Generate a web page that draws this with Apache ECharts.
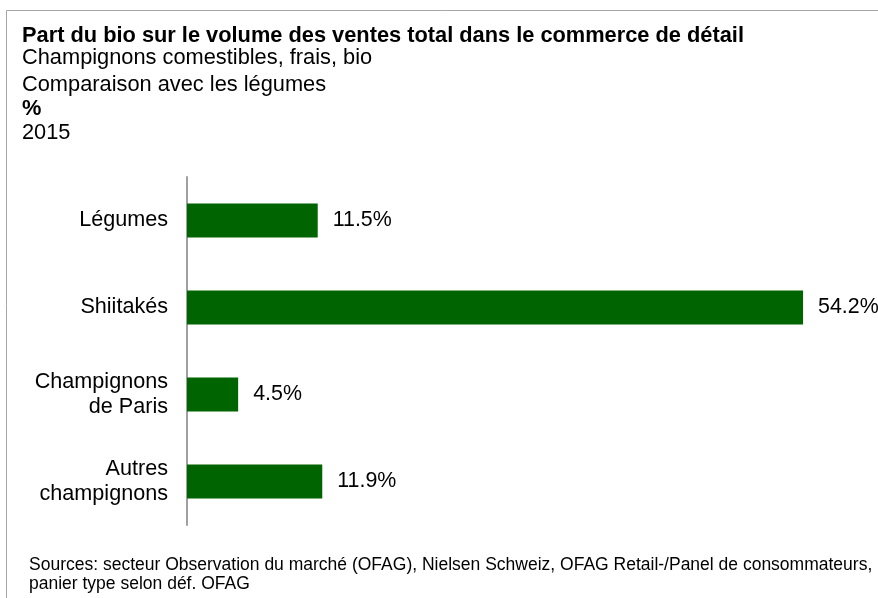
<!DOCTYPE html>
<html>
<head>
<meta charset="utf-8">
<script src="https://cdn.jsdelivr.net/npm/echarts@6/dist/echarts.min.js"></script>
<style>
  html, body { margin: 0; padding: 0; background: #fff; }
  #chart { width: 878px; height: 598px; }
</style>
</head>
<body>
<div id="chart"></div>
<script>
// data
const categories = ['Légumes', 'Shiitakés', 'Champignons\nde Paris', 'Autres\nchampignons']
const shares = [11.5, 54.2, 4.5, 11.9]
const titleLines = ['Champignons comestibles, frais, bio', 'Comparaison avec les légumes']
const sourceLines = [
  'Sources: secteur Observation du marché (OFAG), Nielsen Schweiz, OFAG Retail-/Panel de consommateurs,',
  'panier type selon déf. OFAG'
]

const font = 'Liberation Sans, Arial, sans-serif'
const myChart = echarts.init(document.getElementById('chart'))

function line (text, top, bold) {
  return {
    text: text, left: 22, top: top, padding: 0,
    textStyle: { fontFamily: font, fontSize: 21.8, fontWeight: bold ? 'bold' : 'normal', color: '#000' }
  }
}

const option = {
  animation: false,
  textStyle: { fontFamily: font },
  title: [
    line('Part du bio sur le volume des ventes total dans le commerce de détail', 25, true),
    line(titleLines[0], 47, false),
    line(titleLines[1], 74, false),
    line('%', 98, true),
    line('2015', 122, false),
    { text: sourceLines.join('\n'), left: 29, top: 556, padding: 0,
      textStyle: { fontFamily: font, fontSize: 17.5, fontWeight: 'normal', color: '#000', lineHeight: 19 } }
  ],
  graphic: [
    { type: 'polyline', shape: { points: [[6.5, 598], [6.5, 10.5], [878, 10.5]] },
      style: { stroke: '#a6a6a6', lineWidth: 1, fill: null } }
  ],
  grid: { left: 187, top: 177, bottom: 73, right: 9 },
  xAxis: {
    type: 'value',
    min: 0,
    max: 60,
    show: false
  },
  yAxis: {
    type: 'category',
    inverse: true,
    data: categories,
    axisLine: { show: true, lineStyle: { color: '#a0a0a0', width: 2 } },
    axisTick: { show: false },
    axisLabel: {
      margin: 19,
      fontFamily: font,
      fontSize: 21.6,
      color: '#000',
      lineHeight: 25,
      align: 'right'
    }
  },
  series: [
    {
      type: 'bar',
      data: shares,
      barWidth: 34,
      itemStyle: { color: '#006400' },
      label: {
        show: true,
        position: 'right',
        distance: 15,
        fontFamily: font,
        fontSize: 21.4,
        color: '#000',
        formatter: p => p.value.toFixed(1) + '%'
      }
    }
  ]
}

myChart.setOption(option)
</script>
</body>
</html>
